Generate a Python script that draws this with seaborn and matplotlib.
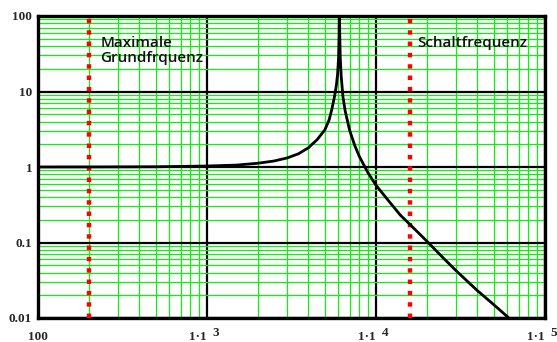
import matplotlib
matplotlib.use("Agg")
import matplotlib.pyplot as plt
import matplotlib.transforms as mtransforms
import seaborn as sns
import pandas as pd
from matplotlib.ticker import LogLocator, NullFormatter, FixedLocator, FixedFormatter

# ---- data ----
freq = [100, 200, 500, 1000, 1500, 2000, 2500, 3000, 3500, 4000, 4500, 5000,
        5300, 5500, 5700, 5850, 5950, 6030, 6070, 6090, 6110, 6130, 6170, 6250,
        6400, 6600, 7000, 7500, 8000, 9000, 10000, 12000, 14000, 16000, 20000,
        25000, 30000, 40000, 50000, 62000]
gain = [1.0, 1.001, 1.007, 1.03, 1.06, 1.12, 1.2, 1.32, 1.5, 1.8, 2.3, 3.1,
        4.2, 5.8, 8.5, 12.0, 17.0, 28.0, 55.0, 120.0, 120.0, 55.0, 28.0, 16.0,
        8.5, 5.5, 3.1, 1.95, 1.38, 0.84, 0.58, 0.35, 0.23, 0.172, 0.105,
        0.063, 0.042, 0.023, 0.015, 0.0098]
marker_freqs = [200, 16000]
annotations = ["Maximale\nGrundfrquenz", "Schaltfrequenz"]
annot_x = [235, 17500]
annot_y = [55, 55]
x_ticks = [100, 1000, 10000, 100000]
x_ticklabels = ["100", "1·1", "1·1", "1·1"]
x_exponents = ["", "3", "4", "5"]
y_ticks = [0.01, 0.1, 1, 10, 100]
y_ticklabels = ["0.01", "0.1", "1", "10", "100"]

df = pd.DataFrame({"f": freq, "g": gain})

sns.set_style("white")

fig = plt.figure(figsize=(5.57, 3.42), dpi=100)
ax = fig.add_axes([37.7/557, 1-318/342, (544.7-37.7)/557, (318-16)/342])

ax.set_xscale("log")
ax.set_yscale("log")
ax.set_xlim(100, 1e5)
ax.set_ylim(0.01, 100)

# grids
ax.xaxis.set_minor_locator(LogLocator(base=10, subs=range(2, 10), numticks=20))
ax.yaxis.set_minor_locator(LogLocator(base=10, subs=range(2, 10), numticks=20))
ax.xaxis.set_minor_formatter(NullFormatter())
ax.yaxis.set_minor_formatter(NullFormatter())
ax.grid(which="minor", color="#11ee11", linewidth=0.9, zorder=0)
ax.grid(which="major", color="black", linewidth=1.6, zorder=1)
ax.set_axisbelow(True)

for x in marker_freqs:
    ax.axvline(x, color="#ff0000", linewidth=3.2, linestyle=(0, (1, 1.55)), zorder=3)

sns.lineplot(data=df, x="f", y="g", ax=ax, color="black", linewidth=2.0, zorder=4)

ax.xaxis.set_major_locator(FixedLocator(x_ticks))
ax.xaxis.set_major_formatter(FixedFormatter(x_ticklabels))
ax.yaxis.set_major_locator(FixedLocator(y_ticks))
ax.yaxis.set_major_formatter(FixedFormatter(y_ticklabels))
ax.tick_params(which="both", length=0)
ax.tick_params(axis="x", pad=9)
ax.tick_params(axis="y", pad=4)
for lab in ax.get_xticklabels() + ax.get_yticklabels():
    lab.set_fontfamily("Liberation Serif")
    lab.set_fontweight("bold")
    lab.set_fontsize(9.5)
fig.canvas.draw()
for i, lab in enumerate(ax.get_xticklabels()):
    if i > 0:
        lab.set_horizontalalignment("right")

# superscript exponents of the x tick labels
blend = mtransforms.blended_transform_factory(ax.transData, ax.transAxes)
for x, e in zip(x_ticks, x_exponents):
    if e:
        tr = blend + mtransforms.ScaledTranslation(6/100, -9/100, fig.dpi_scale_trans)
        ax.text(x, 0, e, transform=tr, ha="left", va="top", fontfamily="Liberation Serif",
                fontweight="bold", fontsize=9.5, clip_on=False)

ax.set_xlabel("")
ax.set_ylabel("")

for s in ax.spines.values():
    s.set_visible(True)
    s.set_color("black")
    s.set_linewidth(2.4)

for txt, x, y in zip(annotations, annot_x, annot_y):
    ax.text(x, y, txt, fontfamily="Open Sans", fontweight="semibold", fontsize=11,
            va="top", ha="left", linespacing=1.15, color="#111111", zorder=5)

fig.savefig("out.png", dpi=100)
